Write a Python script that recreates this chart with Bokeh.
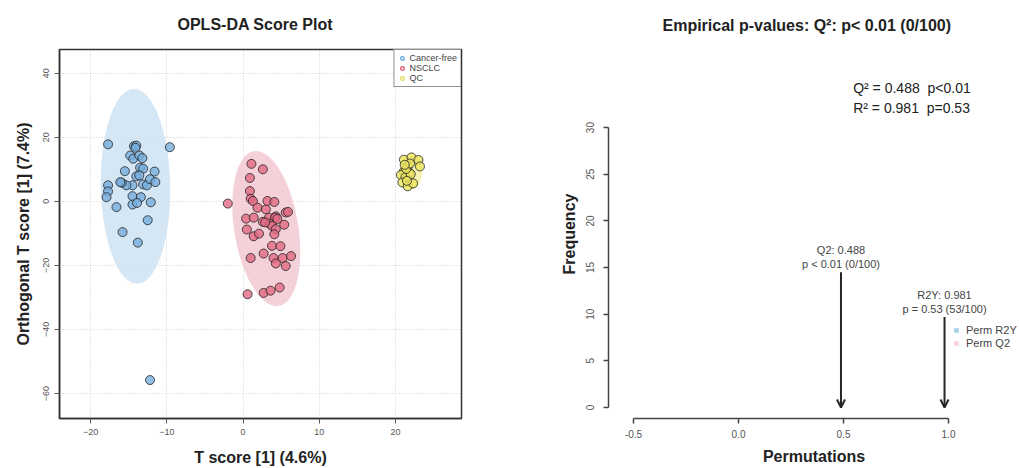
import numpy as np
from bokeh.plotting import figure
from bokeh.layouts import row
from bokeh.models import (ColumnDataSource, Range1d, FixedTicker, Legend, LegendItem,
                          Arrow, OpenHead, NumeralTickFormatter)
from bokeh.core.properties import value
from bokeh.embed import file_html
from bokeh.resources import INLINE

FONT = "Liberation Sans"
NAN = float("nan")

# ---------------- data: OPLS-DA scores ----------------
groups = ["Cancer-free", "NSCLC", "QC"]

cancer_free_t = [-17.7, -14.3, -14.0, -14.1, -14.8, -14.4, -13.6, -13.2, -15.5, -13.5,
                 -13.1, -14.0, -13.6, -14.5, -15.3, -15.9, -16.1, -13.1, -12.6, -12.2,
                 -11.6, -11.5, -14.5, -13.4, -14.5, -13.9, -12.1, -16.6, -12.5, -15.8,
                 -13.8, -9.6, -17.7, -17.7, -17.9, -12.2]
cancer_free_o = [17.8, 17.2, 17.4, 16.7, 14.3, 13.3, 14.3, 13.5, 9.4, 10.5,
                 10.2, 7.8, 8.1, 5.0, 5.0, 5.8, 6.0, 5.3, 5.0, 6.9,
                 9.3, 6.0, 1.6, 1.3, -1.0, -0.5, -0.3, -1.8, -5.9, -9.6,
                 -12.9, 16.9, 5.0, 3.1, 1.3, -55.8]

nsclc_t = [1.1, 2.6, 0.9, 0.9, 1.0, 1.3, -2.0, 1.9, 3.0, 3.2,
           4.1, 0.4, 1.4, 3.4, 4.3, 4.2, 5.6, 5.9, 2.6, 3.5,
           3.8, 5.4, 0.5, 1.4, 2.1, 4.3, 4.1, 3.8, 4.9, 1.0,
           2.7, 4.0, 5.2, 6.3, 4.3, 5.6, 0.6, 2.7, 3.6, 4.8,
           4.5, 2.9]
nsclc_o = [11.7, 10.0, 7.3, 3.2, 0.8, 0.1, -0.7, -2.0, -2.5, 0.1,
           -0.2, -5.4, -5.1, -5.1, -4.7, -5.1, -3.5, -3.3, -6.4, -7.0,
           -7.7, -7.3, -8.8, -10.9, -10.1, -8.7, -10.3, -13.9, -14.0, -17.7,
           -16.3, -17.7, -17.7, -17.1, -19.4, -20.2, -29.0, -28.6, -27.9, -26.9,
           -5.5, -6.6]

qc_t = [21.1, 22.1, 23.0, 23.2, 21.6, 21.1, 21.8, 20.7, 21.3, 20.9,
        21.6, 22.3, 22.0, 21.4, 21.9, 21.2, 21.5]
qc_o = [13.0, 13.7, 12.9, 10.9, 10.9, 9.3, 8.9, 8.2, 7.5, 5.9,
        4.7, 5.6, 8.5, 10.1, 11.8, 11.4, 6.4]

# confidence ellipses: centre, semi-diameter to top point, horizontal conjugate half width
ell_cx = [-14.1, 3.05, 22.0]
ell_cy = [4.7, -8.5, 9.3]
ell_top_dx = [-0.2, -1.35, 0.0]
ell_top_dy = [30.4, 24.2, 5.6]
ell_half_w = [4.55, 4.24, 1.5]

x_ticks = [-20, -10, 0, 10, 20]
y_ticks = [-60, -40, -20, 0, 20, 40]

# ---------------- data: permutation test ----------------
perm_names = ["Q2", "R2Y"]
perm_values = [0.488, 0.981]
perm_pvals = ["p < 0.01 (0/100)", "p = 0.53 (53/100)"]
arrow_top = [14.5, 9.7]
perm_r2y_counts = [NAN]   # histogram of permuted R2Y (no visible bars)
perm_q2_counts = [NAN]    # histogram of permuted Q2 (no visible bars)
summary_lines = ["Q\u00b2 = 0.488\u00a0 p<0.01", "R\u00b2 = 0.981\u00a0 p=0.53"]
perm_x_ticks = [-0.5, 0.0, 0.5, 1.0]
perm_y_ticks = [0, 5, 10, 15, 20, 25, 30]

pt_fill = ["#76aedc", "#e26a83", "#ece660"]
ell_fill = ["#d0e3f4", "#f3cbd4", "#f6f1a6"]
leg_line = ["#5aa0d8", "#e0506a", "#e0d850"]


def style_title(p, text, offset, standoff):
    p.title.text = text
    p.title.align = "left"
    p.title.offset = offset
    p.title.vertical_align = "top"
    p.title.standoff = standoff
    p.title.text_font = FONT
    p.title.text_font_size = "16px"
    p.title.text_font_style = "bold"
    p.title.text_color = "#222222"


# ================= left: score plot =================
p1 = figure(width=500, height=468, x_range=Range1d(-24.07, 28.65), y_range=Range1d(-67.8, 47.4),
            output_backend="svg", toolbar_location=None,
            min_border_left=59, min_border_right=39, min_border_top=49, min_border_bottom=50)
style_title(p1, "OPLS-DA Score Plot", 118, 30)

p1.outline_line_color = "#333333"
p1.outline_line_width = 1.5
p1.outline_line_alpha = 1

t = np.linspace(0, 2 * np.pi, 200)
for i in range(3):
    ex = ell_cx[i] + ell_top_dx[i] * np.cos(t) + ell_half_w[i] * np.sin(t)
    ey = ell_cy[i] + ell_top_dy[i] * np.cos(t)
    p1.patch(ex, ey, fill_color=ell_fill[i], fill_alpha=0.9, line_color=None)

series = [(cancer_free_t, cancer_free_o), (nsclc_t, nsclc_o), (qc_t, qc_o)]
for i, (xs, ys) in enumerate(series):
    p1.scatter(xs, ys, size=9, fill_color=pt_fill[i], fill_alpha=0.8,
               line_color="#262626", line_width=1, line_alpha=0.8)

leg_r = []
for i in range(3):
    leg_r.append(p1.scatter([NAN], [NAN], size=6, fill_color=None, line_color=leg_line[i], line_width=1.3))
leg1 = Legend(items=[LegendItem(label=groups[i], renderers=[leg_r[i]]) for i in range(3)],
              location="top_right", margin=0, padding=3, spacing=0,
              label_text_font=FONT, label_text_font_size="9px", label_text_color="#444444",
              label_height=10, glyph_height=10, glyph_width=9, label_standoff=3,
              border_line_color="#222222", border_line_width=1.5,
              background_fill_color="white", background_fill_alpha=1)
p1.add_layout(leg1)

p1.xaxis.ticker = FixedTicker(ticks=x_ticks)
p1.yaxis.ticker = FixedTicker(ticks=y_ticks)
for ax in (p1.xaxis, p1.yaxis):
    ax.axis_line_color = "#333333"
    ax.axis_line_width = 1.5
    ax.major_tick_line_color = "#555555"
    ax.major_tick_out = 5
    ax.major_tick_in = 0
    ax.minor_tick_line_color = None
    ax.major_label_text_font = FONT
    ax.major_label_text_font_size = "9px"
    ax.major_label_text_color = "#555555"
    ax.axis_label_text_font = FONT
    ax.axis_label_text_font_size = "16px"
    ax.axis_label_text_font_style = "bold"
    ax.axis_label_text_color = "#222222"
p1.yaxis.major_label_orientation = "vertical"
p1.xaxis.axis_label = "T score [1] (4.6%)"
p1.yaxis.axis_label = "Orthogonal T score [1] (7.4%)"
p1.xaxis.major_label_standoff = 5
p1.yaxis.major_label_standoff = 6
p1.xaxis.axis_label_standoff = 11
p1.yaxis.axis_label_standoff = 8
for g in (p1.xgrid, p1.ygrid):
    g.grid_line_color = "#cfcfcf"
    g.grid_line_dash = "1 2"
    g.grid_line_width = 1

# ================= right: permutation plot =================
p2 = figure(width=519, height=468, x_range=Range1d(-0.619, 1.338), y_range=Range1d(-1.18, 38.37),
            output_backend="svg", toolbar_location=None,
            min_border_left=108, min_border_right=0, min_border_top=49, min_border_bottom=50)
style_title(p2, "Empirical p-values: Q\u00b2: p< 0.01 (0/100)", 54, 28)
p2.outline_line_color = None
p2.xgrid.grid_line_color = None
p2.ygrid.grid_line_color = None

h_r2y = p2.quad(left=[NAN], right=[NAN], top=perm_r2y_counts, bottom=[0],
                fill_color="#a9d2e3", line_color=None)
h_q2 = p2.quad(left=[NAN], right=[NAN], top=perm_q2_counts, bottom=[0],
               fill_color="#f8d3da", line_color=None)
leg2 = Legend(items=[LegendItem(label="Perm R2Y", renderers=[h_r2y]),
                     LegendItem(label="Perm Q2", renderers=[h_q2])],
              location=(345, 69), margin=0, padding=2, spacing=1,
              label_text_font=FONT, label_text_font_size="11px", label_text_color="#444444",
              label_height=11, glyph_height=6, glyph_width=6, label_standoff=7,
              border_line_color=None, background_fill_alpha=0)
p2.add_layout(leg2)

src = ColumnDataSource(dict(x=perm_values, top=arrow_top, zero=[0] * len(perm_values),
                            l1=[f"{n}: {v}" for n, v in zip(perm_names, perm_values)],
                            l2=perm_pvals))
p2.add_layout(Arrow(source=src, x_start="x", y_start="top", x_end="x", y_end="zero",
                    line_width=2, line_color="#262626",
                    end=OpenHead(size=8, line_width=2, line_color="#262626")))
p2.text(x="x", y="top", text="l2", source=src, y_offset=-8, text_align="center",
        text_baseline="middle", text_font=value(FONT), text_font_size="11px", text_color="#444444")
p2.text(x="x", y="top", text="l1", source=src, y_offset=-22, text_align="center",
        text_baseline="middle", text_font=value(FONT), text_font_size="11px", text_color="#444444")

p2.text(x=[0.546, 0.546], y=[34.2, 32.15], text=summary_lines, text_align="left",
        text_baseline="middle", text_font=value(FONT), text_font_size="14px", text_color="#222222")

p2.xaxis.ticker = FixedTicker(ticks=perm_x_ticks)
p2.xaxis.formatter = NumeralTickFormatter(format="0.0")
p2.yaxis.ticker = FixedTicker(ticks=perm_y_ticks)
p2.xaxis.bounds = (perm_x_ticks[0], perm_x_ticks[-1])
p2.yaxis.bounds = (perm_y_ticks[0], perm_y_ticks[-1])
for ax in (p2.xaxis, p2.yaxis):
    ax.axis_line_color = "#444444"
    ax.axis_line_width = 1.5
    ax.major_tick_line_color = "#444444"
    ax.major_tick_line_width = 1.5
    ax.major_tick_out = 5
    ax.major_tick_in = 0
    ax.minor_tick_line_color = None
    ax.major_label_text_font = FONT
    ax.major_label_text_font_size = "10px"
    ax.major_label_text_color = "#555555"
    ax.axis_label_text_font = FONT
    ax.axis_label_text_font_size = "16px"
    ax.axis_label_text_font_style = "bold"
    ax.axis_label_text_color = "#222222"
p2.yaxis.major_label_orientation = "vertical"
p2.xaxis.axis_label = "Permutations"
p2.yaxis.axis_label = "Frequency"
p2.xaxis.major_label_standoff = 6
p2.yaxis.major_label_standoff = 9
p2.xaxis.axis_label_standoff = 7
p2.yaxis.axis_label_standoff = 6

layout = row(p1, p2)
open("out.html", "w").write(file_html(layout, INLINE))
